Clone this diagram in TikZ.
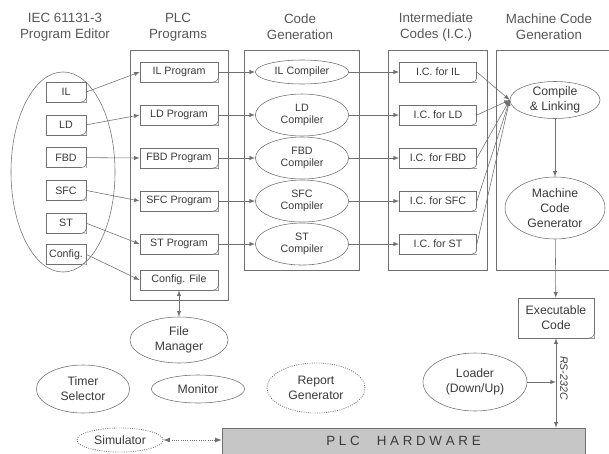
\documentclass[tikz,border=0pt]{standalone}
\usepackage{fontspec}
\setmainfont{Liberation Sans}
\usetikzlibrary{arrows,shapes.geometric}

\definecolor{linegray}{HTML}{707070}
\definecolor{textgray}{HTML}{3A3A3A}
\definecolor{hwgray}{HTML}{C6C6C6}

\tikzset{
  docbox/.style={draw=linegray, rectangle, inner sep=1pt, minimum height=0.5cm,
    text=textgray, font=\fontsize{7.6}{8.6}\selectfont},
  oval/.style={draw=linegray, ellipse, inner sep=0pt, align=center,
    text=textgray, font=\fontsize{7.6}{8.6}\selectfont},
  bigoval/.style={oval, font=\fontsize{8.7}{10.5}\selectfont},
  dotoval/.style={bigoval, densely dotted, semithick},
  head/.style={align=center, text=textgray!85, font=\fontsize{9.5}{11.5}\selectfont},
  frame/.style={draw=linegray},
  link/.style={draw=linegray, -latex},
}

\begin{document}
\begin{tikzpicture}[x=0.025cm, y=-0.025cm, node distance=1.075cm]
 \useasboundingbox (0,0) rectangle (609,453);
 % headings
 \node[head] (h1) at (65,27) {IEC 61131-3\\Program Editor};
 \node[head] (h2) at (178,27) {PLC\\Programs};
 \node[head] (h3) at (300,27) {Code\\Generation};
 \node[head] (h4) at (436,27) {Intermediate\\Codes (I.C.)};
 \node[head] (h5) at (549,27) {Machine Code\\Generation};
 % frames
 \draw[frame] (130,50) rectangle (228,300);
 \draw[frame] (244,50) rectangle (359,270);
 \draw[frame] (388,50) rectangle (487,270);
 \draw[frame] (496,50) rectangle (612,270);
 % program editor
 \node[oval, minimum width=2.6cm, minimum height=5cm] (ed) at (63,172) {};
 \node[docbox, minimum width=1cm] (eil) at (66,92) {IL};
 \node[docbox, minimum width=1cm, node distance=0.82cm, below of=eil] (eld) {LD};
 \node[docbox, minimum width=1cm, node distance=0.82cm, below of=eld] (efbd) {FBD};
 \node[docbox, minimum width=1cm, node distance=0.82cm, below of=efbd] (esfc) {SFC};
 \node[docbox, minimum width=1cm, node distance=0.82cm, below of=esfc] (est) {ST};
 \node[docbox, minimum width=1cm, node distance=0.78cm, below of=est] (ecfg) {Config.};
 % plc programs
 \node[docbox, minimum width=1.95cm] (pil) at (179,72) {IL Program};
 \node[docbox, minimum width=1.95cm, below of=pil] (pld) {LD Program};
 \node[docbox, minimum width=1.95cm, below of=pld] (pfbd) {FBD Program};
 \node[docbox, minimum width=1.95cm, below of=pfbd] (psfc) {SFC Program};
 \node[docbox, minimum width=1.95cm, below of=psfc] (pst) {ST Program};
 \node[docbox, minimum width=1.95cm, node distance=0.9cm, below of=pst] (pcfg) {Config. File};
 % compilers
 \node[oval, minimum width=2.33cm, minimum height=0.6cm] (cil) at (302,72) {IL Compiler};
 \node[oval, minimum width=2.33cm, minimum height=1.05cm, below of=cil] (cld) {LD\\Compiler};
 \node[oval, minimum width=2.33cm, minimum height=1.05cm, below of=cld] (cfbd) {FBD\\Compiler};
 \node[oval, minimum width=2.33cm, minimum height=1.05cm, below of=cfbd] (csfc) {SFC\\Compiler};
 \node[oval, minimum width=2.33cm, minimum height=1.05cm, below of=csfc] (cst) {ST\\Compiler};
 % intermediate codes
 \node[docbox, minimum width=1.93cm] (iil) at (438,72) {I.C. for IL};
 \node[docbox, minimum width=1.93cm, below of=iil] (ild) {I.C. for LD};
 \node[docbox, minimum width=1.93cm, below of=ild] (ifbd) {I.C. for FBD};
 \node[docbox, minimum width=1.93cm, below of=ifbd] (isfc) {I.C. for SFC};
 \node[docbox, minimum width=1.93cm, below of=isfc] (ist) {I.C. for ST};
 % machine code
 \node[bigoval, minimum width=2.25cm, minimum height=0.9cm] (cl) at (555,100) {Compile\\\& Linking};
 \node[bigoval, minimum width=2.5cm, minimum height=1.55cm] (mcg) at (555,208) {Machine\\Code\\Generator};
 \node[docbox, align=center, minimum width=1.9cm, minimum height=1cm,
   font=\fontsize{8.7}{10.5}\selectfont] (exe) at (556,318) {Executable\\Code};
 % tools
 \node[bigoval, minimum width=2.45cm, minimum height=1.15cm] (fm) at (179,340) {File\\Manager};
 \node[bigoval, minimum width=2.33cm, minimum height=1.2cm] (tmr) at (83,389) {Timer\\Selector};
 \node[bigoval, minimum width=2.33cm, minimum height=0.7cm] (mon) at (198,389) {Monitor};
 \node[dotoval, minimum width=2.45cm, minimum height=1.25cm] (rep) at (316,388) {Report\\Generator};
 \node[bigoval, minimum width=2.6cm, minimum height=1.45cm] (ldr) at (475,382) {Loader\\(Down/Up)};
 \node[dotoval, minimum width=2.15cm, minimum height=0.6cm] (sim) at (120,440) {Simulator};
 \node[draw=linegray, fill=hwgray, minimum width=9.075cm, minimum height=0.65cm,
   text=textgray, font=\fontsize{9.5}{11}\selectfont] (hw) at (403.5,441)
   {P L C \quad H A R D W A R E};
 % page corners
 \foreach \n in {eil,eld,efbd,esfc,est,ecfg,pil,pld,pfbd,psfc,pst,pcfg,iil,ild,ifbd,isfc,ist,exe} {
   \fill[white] (\n.south east) -- ([xshift=-4pt]\n.south east)
     .. controls +(2pt,0.5pt) and +(0,-2pt) .. ([yshift=3pt]\n.south east) -- cycle;
   \draw[linegray] ([xshift=-4pt]\n.south east)
     .. controls +(2pt,0.5pt) and +(0,-2pt) .. ([yshift=3pt]\n.south east);
 }
 % connections
 \foreach \a/\b in {eil/pil,eld/pld,efbd/pfbd,esfc/psfc,est/pst,ecfg/pcfg}
   \draw[link] (\a.east) -- (\b.west);
 \foreach \p/\c/\i in {pil/cil/iil,pld/cld/ild,pfbd/cfbd/ifbd,psfc/csfc/isfc,pst/cst/ist} {
   \draw[link] (\p) -- (\c);
   \draw[link] (\c) -- (\i);
   \draw[link] (\i.east) -- (cl.west);
 }
 \draw[link] (cl) -- (mcg);
 \draw[link] (mcg) -- (exe);
 \draw[linegray, latex-latex] (exe.south) -- (exe.south |- hw.north);
 \node[rotate=-90, text=textgray, font=\itshape\fontsize{7.5}{9}\selectfont] (rs) at (564,378) {RS-232C};
 \draw[link] (ldr.east) -- (ldr.east -| exe.south);
 \draw[linegray, latex-latex] (pcfg) -- (fm);
 \draw[linegray, densely dotted, semithick, latex-latex] (sim.east) -- (sim.east -| hw.west);
\end{tikzpicture}
\end{document}
